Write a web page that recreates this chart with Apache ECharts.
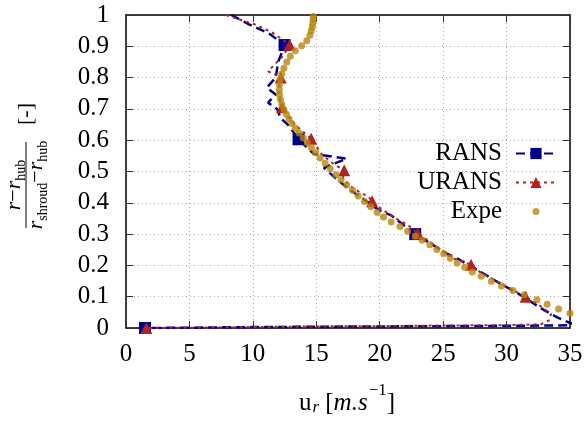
<!DOCTYPE html>
<html><head><meta charset="utf-8">
<script src="https://cdn.jsdelivr.net/npm/echarts@6/dist/echarts.min.js"></script>
<style>html,body{margin:0;padding:0;background:#fff}#c{width:586px;height:421px}</style>
</head><body><div id="c"></div>
<script>
const xTickLabels = ['0','5','10','15','20','25','30','35'];
const yTickLabels = ['0','0.1','0.2','0.3','0.4','0.5','0.6','0.7','0.8','0.9','1'];
const seriesNames = ['RANS','URANS','Expe'];

// RANS (x = u_r, y = normalised radius), drawn in file order
const ransPoints = [
  [8.3,1.0],[9.6,0.972],[11.3,0.94],[12.5,0.904],[12.0,0.85],[11.8,0.80],[11.1,0.768],
  [11.8,0.746],[11.2,0.72],[11.9,0.70],[12.2,0.67],[12.8,0.648],[13.6,0.603],[14.8,0.556],
  [17.4,0.541],[15.6,0.512],[16.6,0.476],[17.6,0.443],[18.8,0.41],[19.9,0.378],[20.9,0.36],
  [22.0,0.325],[22.8,0.30],[24.0,0.27],[25.3,0.238],[26.2,0.22],[28.0,0.178],[29.5,0.142],
  [31.0,0.108],[32.0,0.082],[33.0,0.056],[34.0,0.034],[35.0,0.016],[35.8,0.01],[34.0,0.008],
  [30.0,0.007],[25.0,0.006],[20.0,0.005],[15.0,0.004],[10.0,0.003],[5.0,0.001],[1.5,0.0]
];
const ransMarked = [3,12,22,41];

const uransPoints = [
  [7.9,1.0],[9.2,0.982],[10.3,0.968],[11.7,0.94],[12.9,0.905],[12.4,0.87],[11.2,0.82],
  [12.2,0.80],[12.0,0.75],[12.3,0.705],[13.3,0.65],[14.6,0.605],[15.4,0.556],[16.4,0.523],
  [17.2,0.504],[17.1,0.478],[17.7,0.453],[18.4,0.434],[19.1,0.42],[19.4,0.405],[20.2,0.378],
  [21.4,0.347],[22.2,0.33],[23.0,0.302],[24.5,0.26],[25.8,0.222],[26.7,0.21],[27.2,0.202],
  [28.0,0.176],[28.9,0.157],[30.2,0.128],[31.5,0.10],[32.6,0.072],[33.5,0.045],[33.4,0.025],
  [32.7,0.012],[30.0,0.009],[25.0,0.008],[20.0,0.006],[15.0,0.005],[10.0,0.003],[5.0,0.001],[1.6,0.0]
];
const uransMarked = [4,7,9,11,14,19,23,27,31,42];

const expePoints = [
  [14.76,0.995],[14.75,0.985],[14.72,0.973],[14.68,0.962],[14.6,0.95],[14.5,0.935],[14.25,0.918],
  [13.85,0.902],[13.35,0.886],[12.95,0.868],[12.68,0.85],[12.45,0.83],[12.28,0.812],[12.17,0.795],
  [12.1,0.778],[12.08,0.762],[12.1,0.746],[12.17,0.73],[12.28,0.714],[12.45,0.698],[12.65,0.683],
  [12.85,0.668],[13.08,0.653],[13.35,0.638],[13.65,0.623],[13.98,0.607],[14.3,0.592],[14.62,0.576],
  [14.95,0.56],[15.3,0.543],[15.7,0.526],[16.1,0.509],[16.55,0.49],[16.95,0.474],[17.4,0.457],
  [17.85,0.44],[18.3,0.422],[18.8,0.404],[19.3,0.387],[19.8,0.37],[20.3,0.355],[20.9,0.339],
  [21.6,0.324],[22.2,0.309],[22.8,0.294],[23.35,0.28],[23.95,0.266],[24.5,0.251],[25.05,0.237],
  [25.55,0.223],[26.1,0.208],[26.7,0.194],[27.3,0.179],[28.0,0.165],[28.8,0.149],[29.6,0.134],
  [30.5,0.12],[31.4,0.106],[32.4,0.09],[33.2,0.076],[34.1,0.061],[35.0,0.047]
];

const FONT = 'Liberation Serif';
const C_RANS = '#00008b', C_URANS = '#b22222', C_EXPE = '#b8860b';

function withMarks(points, marked) {
  return points.map((p, i) => marked.indexOf(i) >= 0 ? {value: p} : {value: p, symbol: 'none'});
}

const chart = echarts.init(document.getElementById('c'), null, {renderer: 'canvas'});
const axisLineStyle = {color: '#000', width: 1.5};
const tickStyle = {color: '#333', width: 1};
const gridLineStyle = {type: [1, 3], color: '#aaa', width: 1};
const fracRich = {
  i: {fontFamily: FONT, fontStyle: 'italic', fontSize: 22, lineHeight: 22, verticalAlign: 'top'},
  n: {fontFamily: FONT, fontSize: 22, lineHeight: 22, verticalAlign: 'top'},
  s: {fontFamily: FONT, fontSize: 14, lineHeight: 14, verticalAlign: 'top', padding: [11, 0, 0, 0]}
};
chart.setOption({
  animation: false,
  backgroundColor: '#fff',
  grid: {left: 126, right: 16, top: 15, bottom: 93, containLabel: false},
  xAxis: [
    {type: 'value', min: 0, max: 35, interval: 5, position: 'bottom',
     axisLine: {show: true, onZero: false, lineStyle: axisLineStyle},
     axisTick: {show: true, inside: true, length: 7, lineStyle: tickStyle},
     axisLabel: {margin: 14, fontFamily: FONT, fontSize: 25, color: '#000',
       formatter: v => xTickLabels[Math.round(v / 5)]},
     splitLine: {show: true, lineStyle: gridLineStyle}},
    {type: 'value', min: 0, max: 35, interval: 5, position: 'top',
     axisLine: {show: true, onZero: false, lineStyle: axisLineStyle},
     axisTick: {show: true, inside: true, length: 7, lineStyle: tickStyle},
     axisLabel: {show: false}, splitLine: {show: false}}
  ],
  yAxis: [
    {type: 'value', min: 0, max: 1, interval: 0.1, position: 'left',
     axisLine: {show: true, onZero: false, lineStyle: axisLineStyle},
     axisTick: {show: true, inside: true, length: 7, lineStyle: tickStyle},
     axisLabel: {margin: 17, fontFamily: FONT, fontSize: 25, color: '#000',
       formatter: v => yTickLabels[Math.round(v * 10)]},
     splitLine: {show: true, lineStyle: gridLineStyle}},
    {type: 'value', min: 0, max: 1, interval: 0.1, position: 'right',
     axisLine: {show: true, onZero: false, lineStyle: axisLineStyle},
     axisTick: {show: true, inside: true, length: 7, lineStyle: tickStyle},
     axisLabel: {show: false}, splitLine: {show: false}}
  ],
  legend: {
    orient: 'vertical', right: 29, top: 141, align: 'right', padding: 0,
    itemWidth: 40, itemHeight: 14, itemGap: 4,
    textStyle: {fontFamily: FONT, fontSize: 25, color: '#000', padding: [0, 9, 0, 0]},
    data: [seriesNames[0], seriesNames[1],
      {name: seriesNames[2], icon: 'path://M10,0 M10,20 M10,5 A5,5 0 1 1 10,15 A5,5 0 1 1 10,5 Z'}]
  },
  series: [
    {name: seriesNames[0], type: 'line', xAxisIndex: 0, yAxisIndex: 0,
     data: withMarks(ransPoints, ransMarked), symbol: 'rect', symbolSize: 12,
     showSymbol: true, showAllSymbol: true, clip: true, z: 2,
     lineStyle: {color: C_RANS, width: 2.5, type: [9, 5]}, itemStyle: {color: C_RANS}},
    {name: seriesNames[1], type: 'line', xAxisIndex: 0, yAxisIndex: 0,
     data: withMarks(uransPoints, uransMarked), symbol: 'triangle', symbolSize: 12,
     showSymbol: true, showAllSymbol: true, clip: true, z: 3,
     lineStyle: {color: C_URANS, width: 2, type: [3, 4]}, itemStyle: {color: C_URANS}},
    {name: seriesNames[2], type: 'scatter', xAxisIndex: 0, yAxisIndex: 0,
     data: expePoints, symbol: 'circle', symbolSize: 7, clip: true, z: 4,
     itemStyle: {color: C_EXPE}}
  ],
  graphic: [
    {type: 'group', x: 26, y: 185, rotation: Math.PI / 2, children: [
      {type: 'text', x: 0, y: -1, style: {
        text: '{i|r}{n|−}{i|r}{s|hub}', align: 'center', verticalAlign: 'bottom', fill: '#000',
        rich: fracRich}},
      {type: 'line', shape: {x1: -43, y1: 0, x2: 43, y2: 0}, style: {stroke: '#000', lineWidth: 1}},
      {type: 'text', x: 0, y: -1, style: {
        text: '{i|r}{s|shroud}{n|−}{i|r}{s|hub}', align: 'center', verticalAlign: 'top', fill: '#000',
        rich: fracRich}},
      {type: 'text', x: 71, y: 0, style: {text: '[-]', fontFamily: FONT, fontSize: 22,
        align: 'center', verticalAlign: 'middle', fill: '#000'}}
    ]},
    {type: 'text', x: 347, y: 395, style: {
      text: '{n|u}{sb|r}{n| [}{it|m.s}{sp|−1}{n|]}', align: 'center', verticalAlign: 'middle', fill: '#000',
      rich: {
        n: {fontFamily: FONT, fontSize: 25, lineHeight: 25, verticalAlign: 'top', padding: [8, 0, 0, 0]},
        it: {fontFamily: FONT, fontStyle: 'italic', fontSize: 25, lineHeight: 25, verticalAlign: 'top', padding: [8, 0, 0, 0]},
        sp: {fontFamily: FONT, fontSize: 17, lineHeight: 17, verticalAlign: 'top', padding: [0, 0, 0, 1]},
        sb: {fontFamily: FONT, fontStyle: 'italic', fontSize: 17, lineHeight: 17, verticalAlign: 'top', padding: [17, 0, 0, 1]}
      }}}
  ]
});
</script></body></html>
